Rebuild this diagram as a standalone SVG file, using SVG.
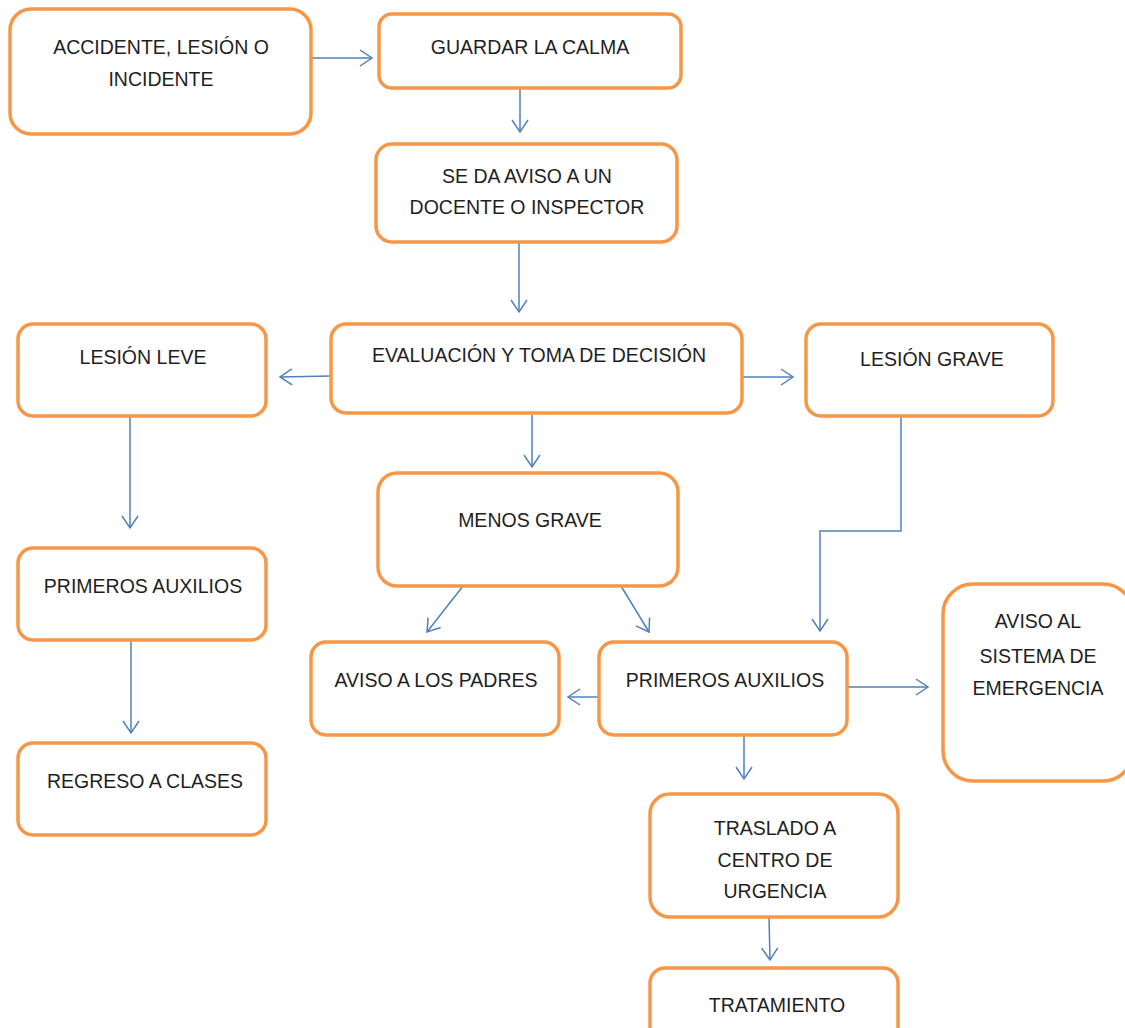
<svg xmlns="http://www.w3.org/2000/svg" width="1125" height="1028" viewBox="0 0 1125 1028">
<style>
.box{fill:#fff;stroke:#F79646;stroke-width:3.5}
.t{font-family:"Liberation Sans",Arial,sans-serif;font-size:19.5px;fill:#1f1f1f;text-anchor:middle}
.c{fill:none;stroke:#4F81BD;stroke-width:1.5;marker-end:url(#ah)}
</style>
<defs>
<marker id="ah" markerUnits="userSpaceOnUse" markerWidth="16" markerHeight="20" viewBox="-14 -10 16 20" refX="0" refY="0" orient="auto">
<path d="M-12,-8 L0,0 L-12,8" fill="none" stroke="#4F81BD" stroke-width="1.5"/>
</marker>
</defs>
<rect width="1125" height="1028" fill="#fff"/>
<g id="connectors">
<path class="c" d="M311,58 L372,58"/>
<path class="c" d="M520,89 L520,132"/>
<path class="c" d="M519,243 L519,312"/>
<path class="c" d="M331,376 L280,377"/>
<path class="c" d="M742,377 L793,377"/>
<path class="c" d="M532,415 L532,467"/>
<path class="c" d="M130,417 L130,528"/>
<path class="c" d="M131,641 L131,733"/>
<path class="c" d="M901,417 L901,531 L820,531 L820,631"/>
<path class="c" d="M463,586 L427,632"/>
<path class="c" d="M621,586 L649,632"/>
<path class="c" d="M598,697 L568,697"/>
<path class="c" d="M847,687 L928,687"/>
<path class="c" d="M744,736 L744,779"/>
<path class="c" d="M769,917 L770,960"/>
</g>
<g id="n-accidente"><rect class="box" x="10" y="9" width="301" height="125" rx="21"/><text class="t" x="161" y="54">ACCIDENTE, LESIÓN O</text><text class="t" x="161" y="86">INCIDENTE</text></g>
<g id="n-guardar"><rect class="box" x="379" y="14" width="302" height="74" rx="13"/><text class="t" x="530" y="54">GUARDAR LA CALMA</text></g>
<g id="n-aviso-docente"><rect class="box" x="376" y="144" width="301" height="98" rx="16"/><text class="t" x="527" y="183">SE DA AVISO A UN</text><text class="t" x="527" y="214">DOCENTE O INSPECTOR</text></g>
<g id="n-evaluacion"><rect class="box" x="331" y="324" width="411" height="89" rx="15"/><text class="t" x="539" y="362">EVALUACIÓN Y TOMA DE DECISIÓN</text></g>
<g id="n-leve"><rect class="box" x="18" y="324" width="248" height="92" rx="15"/><text class="t" x="143" y="364">LESIÓN LEVE</text></g>
<g id="n-grave"><rect class="box" x="806" y="324" width="247" height="92" rx="15"/><text class="t" x="932" y="366">LESIÓN GRAVE</text></g>
<g id="n-menos-grave"><rect class="box" x="378" y="473" width="300" height="113" rx="19"/><text class="t" x="530" y="527">MENOS GRAVE</text></g>
<g id="n-primeros-izq"><rect class="box" x="18" y="548" width="248" height="92" rx="15"/><text class="t" x="143" y="593">PRIMEROS AUXILIOS</text></g>
<g id="n-regreso"><rect class="box" x="18" y="743" width="248" height="92" rx="15"/><text class="t" x="145" y="788">REGRESO A CLASES</text></g>
<g id="n-padres"><rect class="box" x="311" y="642" width="248" height="93" rx="15"/><text class="t" x="436" y="687">AVISO A LOS PADRES</text></g>
<g id="n-primeros-centro"><rect class="box" x="599" y="642" width="248" height="93" rx="15"/><text class="t" x="725" y="687">PRIMEROS AUXILIOS</text></g>
<g id="n-emergencia"><rect class="box" x="943" y="584" width="190" height="197" rx="30"/><text class="t" x="1038" y="628">AVISO AL</text><text class="t" x="1038" y="663">SISTEMA DE</text><text class="t" x="1038" y="695">EMERGENCIA</text></g>
<g id="n-traslado"><rect class="box" x="650" y="794" width="248" height="123" rx="20"/><text class="t" x="775" y="835">TRASLADO A</text><text class="t" x="775" y="867">CENTRO DE</text><text class="t" x="775" y="898">URGENCIA</text></g>
<g id="n-tratamiento"><rect class="box" x="650" y="968" width="248" height="92" rx="15"/><text class="t" x="777" y="1012">TRATAMIENTO</text></g>
</svg>
